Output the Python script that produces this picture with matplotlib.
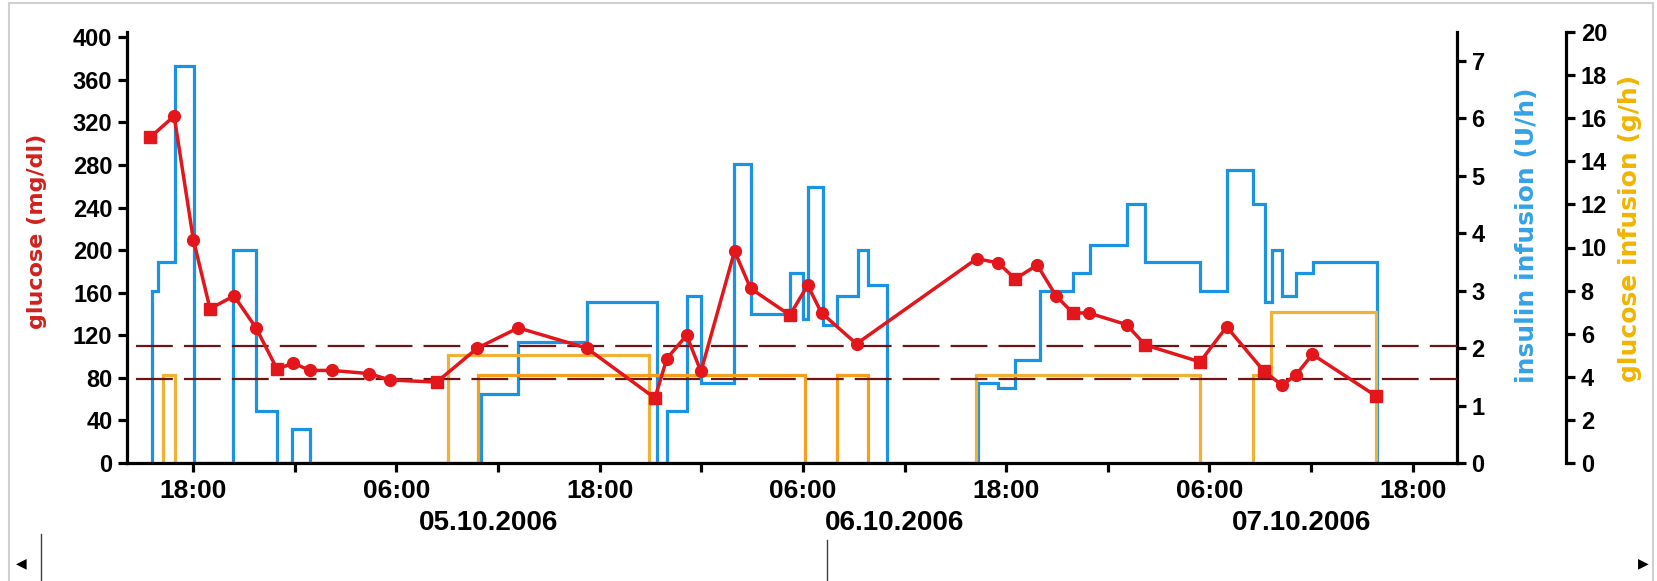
import pandas as pd
import matplotlib
matplotlib.use("Agg")
import matplotlib.pyplot as plt
import matplotlib.dates as mdates
from matplotlib.lines import Line2D
from matplotlib.ticker import FuncFormatter

plt.rcParams["font.family"] = ["Liberation Sans", "DejaVu Sans"]
plt.rcParams["font.weight"] = "bold"
plt.rcParams["lines.scale_dashes"] = False

# blood glucose (mg/dl)
glucose_time = [
    "04.10.2006 15:28", "04.10.2006 16:53", "04.10.2006 18:01", "04.10.2006 19:00",
    "04.10.2006 20:25", "04.10.2006 21:43", "04.10.2006 22:58", "04.10.2006 23:54",
    "05.10.2006 00:54", "05.10.2006 02:12", "05.10.2006 04:23", "05.10.2006 05:38",
    "05.10.2006 08:23", "05.10.2006 10:47", "05.10.2006 13:12", "05.10.2006 17:14",
    "05.10.2006 21:16", "05.10.2006 21:58", "05.10.2006 23:08", "05.10.2006 23:59",
    "06.10.2006 01:58", "06.10.2006 02:55", "06.10.2006 05:14", "06.10.2006 06:17",
    "06.10.2006 07:06", "06.10.2006 09:10", "06.10.2006 16:16", "06.10.2006 17:32",
    "06.10.2006 18:32", "06.10.2006 19:50", "06.10.2006 20:57", "06.10.2006 21:56",
    "06.10.2006 22:52", "07.10.2006 01:07", "07.10.2006 02:12", "07.10.2006 05:27",
    "07.10.2006 07:01", "07.10.2006 09:14", "07.10.2006 10:18", "07.10.2006 11:07",
    "07.10.2006 12:05", "07.10.2006 15:50",
]
glucose_value = [306, 326, 210, 145, 157, 127, 88, 94, 87, 87, 84, 78,
                 76, 108, 127, 108, 61, 98, 120, 86, 199, 164, 139, 167,
                 141, 112, 192, 188, 173, 186, 157, 141, 141, 130, 111, 95,
                 128, 86, 73, 83, 102, 63]
lab_samples = [0, 3, 6, 12, 16, 22, 28, 31, 34, 35, 37, 41]

# target range (mg/dl)
target_low = 79
target_high = 110

# insulin infusion (U/h), rate valid from each time on
insulin_time = [
    "04.10.2006 15:34", "04.10.2006 15:57", "04.10.2006 16:56", "04.10.2006 18:05",
    "04.10.2006 20:23", "04.10.2006 21:43", "04.10.2006 22:56", "04.10.2006 23:50",
    "05.10.2006 00:55", "05.10.2006 10:59", "05.10.2006 13:12", "05.10.2006 17:14",
    "05.10.2006 21:22", "05.10.2006 21:58", "05.10.2006 23:08", "05.10.2006 23:59",
    "06.10.2006 01:57", "06.10.2006 02:56", "06.10.2006 05:14", "06.10.2006 06:02",
    "06.10.2006 06:19", "06.10.2006 07:10", "06.10.2006 08:00", "06.10.2006 09:14",
    "06.10.2006 09:52", "06.10.2006 10:57", "06.10.2006 16:22", "06.10.2006 17:32",
    "06.10.2006 18:32", "06.10.2006 20:00", "06.10.2006 21:56", "06.10.2006 22:57",
    "07.10.2006 01:07", "07.10.2006 02:12", "07.10.2006 05:26", "07.10.2006 07:01",
    "07.10.2006 08:35", "07.10.2006 09:17", "07.10.2006 09:43", "07.10.2006 10:18",
    "07.10.2006 11:07", "07.10.2006 12:08", "07.10.2006 15:52",
]
insulin_rate = [3.0, 3.5, 6.9, 0, 3.7, 0.9, 0, 0.6, 0, 1.2, 2.1, 2.8,
                0, 0.9, 2.9, 1.4, 5.2, 2.6, 3.3, 2.5, 4.8, 2.4, 2.9, 3.7,
                3.1, 0, 1.4, 1.3, 1.8, 3.0, 3.3, 3.8, 4.5, 3.5, 3.0, 5.1,
                4.5, 2.8, 3.7, 2.9, 3.3, 3.5, 0]

# glucose infusions (g/h), two lines
gi1_time = ["04.10.2006 16:15", "04.10.2006 16:56", "05.10.2006 09:04",
            "05.10.2006 20:56", "06.10.2006 16:13", "07.10.2006 05:26",
            "07.10.2006 08:33", "07.10.2006 09:38", "07.10.2006 15:50"]
gi1_rate = [4.1, 0, 5.0, 0, 4.1, 0, 4.1, 7.0, 0]
gi2_time = ["05.10.2006 10:50", "06.10.2006 06:08", "06.10.2006 08:00",
            "06.10.2006 09:52"]
gi2_rate = [4.1, 0, 4.1, 0]

days = ["05.10.2006", "06.10.2006", "07.10.2006"]


def to_num(times):
    return mdates.date2num(pd.to_datetime(times, format="%d.%m.%Y %H:%M").to_numpy())


RED = "#e3161b"
BLUE = "#1b93e4"
ORANGE1 = "#efb236"
ORANGE2 = "#f4a01e"

W, H = 1658, 581
fig = plt.figure(figsize=(W / 100, H / 100), dpi=100)
ax = fig.add_axes([127 / W, 118 / H, 1330 / W, 431 / H])
ax_ins = ax.twinx()
ax_gi = ax.twinx()

ax.set_zorder(3)
ax_gi.set_zorder(2)
ax_ins.set_zorder(1)
for a in (ax, ax_ins, ax_gi):
    a.patch.set_visible(False)

# insulin
t_ins = to_num(insulin_time)
ax_ins.stairs(insulin_rate[:-1], t_ins, baseline=0, color=BLUE, lw=2.3)

# glucose infusion
ax_gi.stairs(gi1_rate[:-1], to_num(gi1_time), baseline=0, color=ORANGE1, lw=2.3)
ax_gi.stairs(gi2_rate[:-1], to_num(gi2_time), baseline=0, color=ORANGE2, lw=2.3)

# target range
for level in (target_low, target_high):
    ax.axhline(level, color="#6e1414", lw=1.6, ls=(28, (26.5, 8)), zorder=1)

# glucose
t_glu = to_num(glucose_time)
ax.plot(t_glu, glucose_value, color=RED, lw=2.5, zorder=3)
lab_t = [t_glu[i] for i in lab_samples]
lab_v = [glucose_value[i] for i in lab_samples]
other = [i for i in range(len(glucose_value)) if i not in lab_samples]
ax.plot([t_glu[i] for i in other], [glucose_value[i] for i in other],
        ls="none", marker="o", ms=8.5, color=RED, zorder=4)
ax.plot(lab_t, lab_v, ls="none", marker="s", ms=8, color=RED, zorder=4)

# limits
x0 = to_num(["04.10.2006 14:06"])[0]
x1 = to_num(["07.10.2006 20:37"])[0]
ax.set_xlim(x0, x1)
ax.set_ylim(0, 405)
ax_ins.set_ylim(0, 7.5)
ax_gi.set_ylim(0, 20)

# spines
for s in ("top", "right"):
    ax.spines[s].set_visible(False)
for s in ("left", "bottom"):
    ax.spines[s].set_linewidth(2.3)
for a in (ax_ins, ax_gi):
    for s in ("top", "left", "bottom"):
        a.spines[s].set_visible(False)
    a.spines["right"].set_linewidth(2.3)
ax_gi.spines["right"].set_position(("axes", 1.082))

# ticks
ax.set_yticks(range(0, 401, 40))
ax_ins.set_yticks(range(0, 8))
ax_gi.set_yticks(range(0, 21, 2))
ax.tick_params(axis="y", direction="out", length=6.5, width=2.3, labelsize=17, pad=4)
ax_ins.tick_params(axis="y", direction="out", length=6.5, width=2.3, labelsize=17, pad=4)
ax_gi.tick_params(axis="y", direction="out", length=6.5, width=2.3, labelsize=17, pad=4)

ax.xaxis.set_major_locator(mdates.HourLocator(byhour=[0, 6, 12, 18]))


def hour_label(x, pos):
    h = int(round((x % 1) * 24)) % 24
    return "%02d:00" % h if h in (6, 18) else ""


ax.xaxis.set_major_formatter(FuncFormatter(hour_label))
ax.tick_params(axis="x", direction="out", length=6.5, width=2.3, labelsize=19, pad=5)

for d in days:
    xd = to_num([d + " 11:25"])[0]
    ax.text(xd, -0.108, d, transform=ax.get_xaxis_transform(), ha="center",
            va="top", fontsize=20, fontweight="bold")

# axis titles
fig.text(37 / W, 1 - 231 / H, "glucose (mg/dl)", rotation=90, ha="center",
         va="center", color="#d0201c", fontsize=16, fontweight="bold",
         family="DejaVu Sans")
fig.text(1527 / W, 1 - 235 / H, "insulin infusion (U/h)", rotation=90,
         ha="center", va="center", color="#35a2e6", fontsize=18,
         fontweight="bold", family="DejaVu Sans")
fig.text(1630 / W, 1 - 228 / H, "glucose infusion (g/h)", rotation=90,
         ha="center", va="center", color="#f2b400", fontsize=18,
         fontweight="bold", family="DejaVu Sans")

# window frame and scroll bar
def fig_line(xs, ys, color, lw):
    fig.add_artist(Line2D([x / W for x in xs], [1 - y / H for y in ys],
                          transform=fig.transFigure, color=color, lw=lw))


fig_line([9, 1653], [3, 3], "#d0d0d0", 1.5)
fig_line([9, 9], [3, 581], "#d0d0d0", 1.5)
fig_line([1653, 1653], [3, 581], "#d0d0d0", 1.5)
fig_line([41, 41], [534, 581], "#404040", 1.0)
fig_line([827, 827], [540, 581], "#404040", 1.0)
fig.text(21 / W, 1 - 563 / H, "\u25c0", ha="center", va="center", fontsize=10,
         family="DejaVu Sans", color="black")
fig.text(1643 / W, 1 - 563 / H, "\u25b6", ha="center", va="center", fontsize=10,
         family="DejaVu Sans", color="black")

fig.savefig("out.png", dpi=100)
